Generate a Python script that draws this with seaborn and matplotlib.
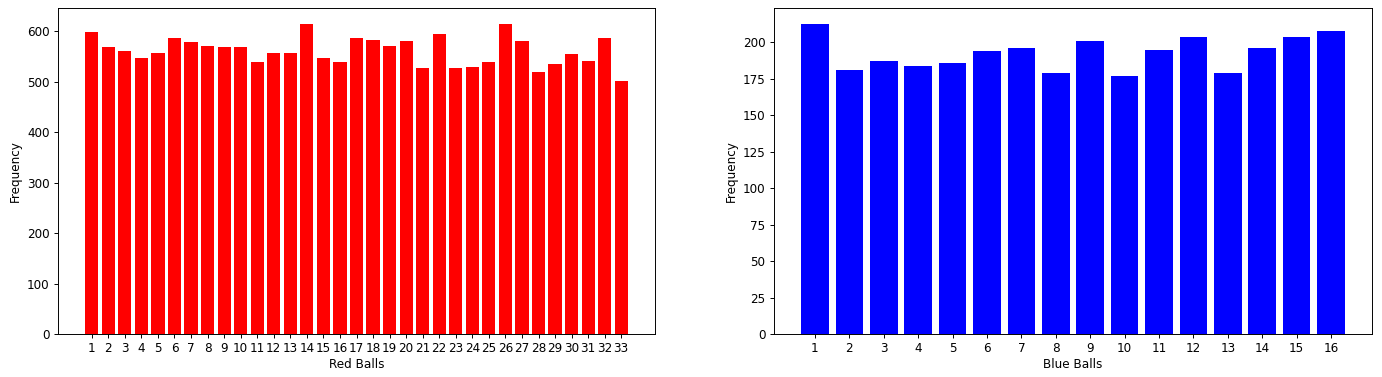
import matplotlib
matplotlib.use("Agg")
import matplotlib.pyplot as plt
import pandas as pd
import seaborn as sns

red_balls = list(range(1, 34))
red_freq = [598, 568, 560, 546, 556, 586, 578, 570, 568, 568,
            539, 556, 556, 615, 546, 539, 586, 582, 571, 581,
            526, 594, 527, 529, 539, 615, 580, 519, 534, 555,
            541, 586, 501]

blue_balls = list(range(1, 17))
blue_freq = [213, 181, 187, 184, 186, 194, 196, 179, 201, 177,
             195, 204, 179, 196, 204, 208]

DPI = 86.4
W, H = 1382, 377


def draw(ax, balls, freq, color, label):
    df = pd.DataFrame({"ball": [str(b) for b in balls], "freq": freq})
    sns.barplot(data=df, x="ball", y="freq", color=color, saturation=1,
                width=0.8, ax=ax)
    n = len(balls)
    pad = 0.05 * (n - 1 + 0.8)
    ax.set_xlim(-0.4 - pad, n - 1 + 0.4 + pad)
    ax.set_ylim(0, max(freq) * 1.05)
    ax.set_xlabel(label, labelpad=2)
    ax.set_ylabel("Frequency")


def main():
    fig = plt.figure(figsize=(W / DPI, H / DPI), dpi=DPI)
    ax1 = fig.add_axes([58 / W, 1 - 334 / H, 597 / W, 326 / H])
    ax2 = fig.add_axes([774 / W, 1 - 334 / H, 598 / W, 326 / H])
    draw(ax1, red_balls, red_freq, "red", "Red Balls")
    draw(ax2, blue_balls, blue_freq, "blue", "Blue Balls")
    fig.savefig("out.png", dpi=DPI)
    plt.close(fig)


if __name__ == "__main__":
    main()
